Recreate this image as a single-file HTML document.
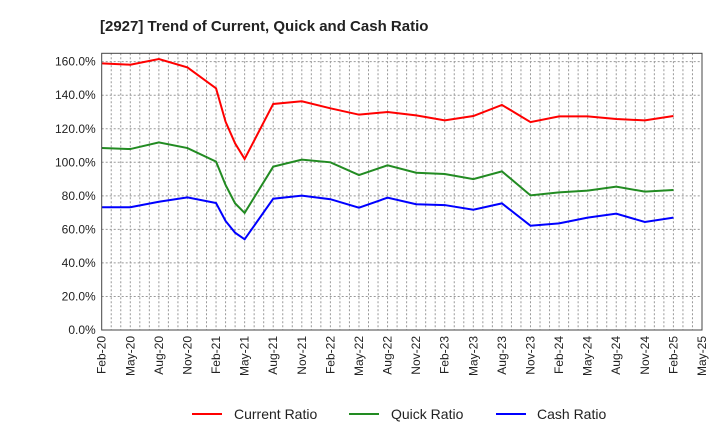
<!DOCTYPE html>
<html><head><meta charset="utf-8"><style>
body{margin:0;background:#fff;font-family:"Liberation Sans",sans-serif}
svg text{font-family:"Liberation Sans",sans-serif}
</style></head><body>
<svg id="c" width="720" height="440" xmlns="http://www.w3.org/2000/svg">
<text x="100" y="31" font-size="15" font-weight="bold" fill="#222">[2927]  Trend of Current, Quick and Cash Ratio</text>
<g id="grid"></g><g id="series"></g><g id="axes"></g>
<g>
<g><line x1="192" y1="414" x2="222" y2="414" stroke="#f00" stroke-width="2"/><text x="234" y="419" font-size="14" fill="#222">Current Ratio</text></g>
<g><line x1="349" y1="414" x2="379" y2="414" stroke="#228b22" stroke-width="2"/><text x="391" y="419" font-size="14" fill="#222">Quick Ratio</text></g>
<g><line x1="496" y1="414" x2="526" y2="414" stroke="#00f" stroke-width="2"/><text x="537" y="419" font-size="14" fill="#222">Cash Ratio</text></g>
</g>
</svg>
<script>
const monthIdx=[0,3,6,9,12,13,14,15,18,21,24,27,30,33,36,39,42,45,48,51,54,57,60];
const currentRatio=[159.0,158.2,161.6,156.6,144.1,124.2,111.3,102.0,134.8,136.4,132.2,128.4,130.0,128.0,125.0,127.6,134.2,124.0,127.4,127.4,125.8,125.0,127.6];
const quickRatio=[108.5,107.9,111.9,108.5,100.4,86.5,75.5,69.8,97.4,101.6,100.0,92.4,98.2,93.8,93.0,90.0,94.6,80.3,82.1,83.1,85.5,82.5,83.5];
const cashRatio=[73.2,73.2,76.5,79.1,75.7,65.0,58.0,54.1,78.3,80.1,78.0,72.9,78.9,75.0,74.5,71.7,75.5,62.2,63.6,67.0,69.4,64.4,67.0];
const xLabels=["Feb-20","May-20","Aug-20","Nov-20","Feb-21","May-21","Aug-21","Nov-21","Feb-22","May-22","Aug-22","Nov-22","Feb-23","May-23","Aug-23","Nov-23","Feb-24","May-24","Aug-24","Nov-24","Feb-25","May-25"];
const yTicks=[0,20,40,60,80,100,120,140,160];
const L=101.7,R=702,T=53.3,B=330,MAXM=63,YMAX=165;
const xs=m=>L+(R-L)*m/MAXM, ys=v=>B-(B-T)*v/YMAX;
const NS="http://www.w3.org/2000/svg";
function mk(tag,attrs,parent){const e=document.createElementNS(NS,tag);for(const k in attrs)e.setAttribute(k,attrs[k]);parent.appendChild(e);return e;}
const grid=document.getElementById('grid'),ser=document.getElementById('series'),ax=document.getElementById('axes');
for(let m=1;m<MAXM;m++){const l=mk('line',{x1:xs(m),x2:xs(m),y1:T,y2:B,stroke:'#999','stroke-dasharray':'2,2','stroke-width':1},grid);

}
yTicks.forEach(v=>{const l=mk('line',{x1:L,x2:R,y1:ys(v),y2:ys(v),stroke:'#999','stroke-dasharray':'2,2','stroke-width':1},grid);


const t=mk('text',{x:L-6,y:ys(v)+4,'font-size':12,'text-anchor':'end',fill:'#222'},ax);t.textContent=v.toFixed(1)+'%';

});
xLabels.forEach((s,i)=>{const x=xs(i*3);const t=mk('text',{x:0,y:0,'font-size':12,'text-anchor':'end',fill:'#222',transform:`translate(${x+4},${B+6}) rotate(-90)`},ax);t.textContent=s;

});
const frame=mk('rect',{x:L,y:T,width:R-L,height:B-T,fill:'none',stroke:'#444','stroke-width':1},ax);


[[currentRatio,'#f00','current-ratio-line'],[quickRatio,'#228b22','quick-ratio-line'],[cashRatio,'#00f','cash-ratio-line']].forEach(([d,c,n])=>{
const p=mk('polyline',{points:d.map((v,i)=>xs(monthIdx[i])+','+ys(v)).join(' '),fill:'none',stroke:c,'stroke-width':2},ser);

});
</script>
</body></html>
